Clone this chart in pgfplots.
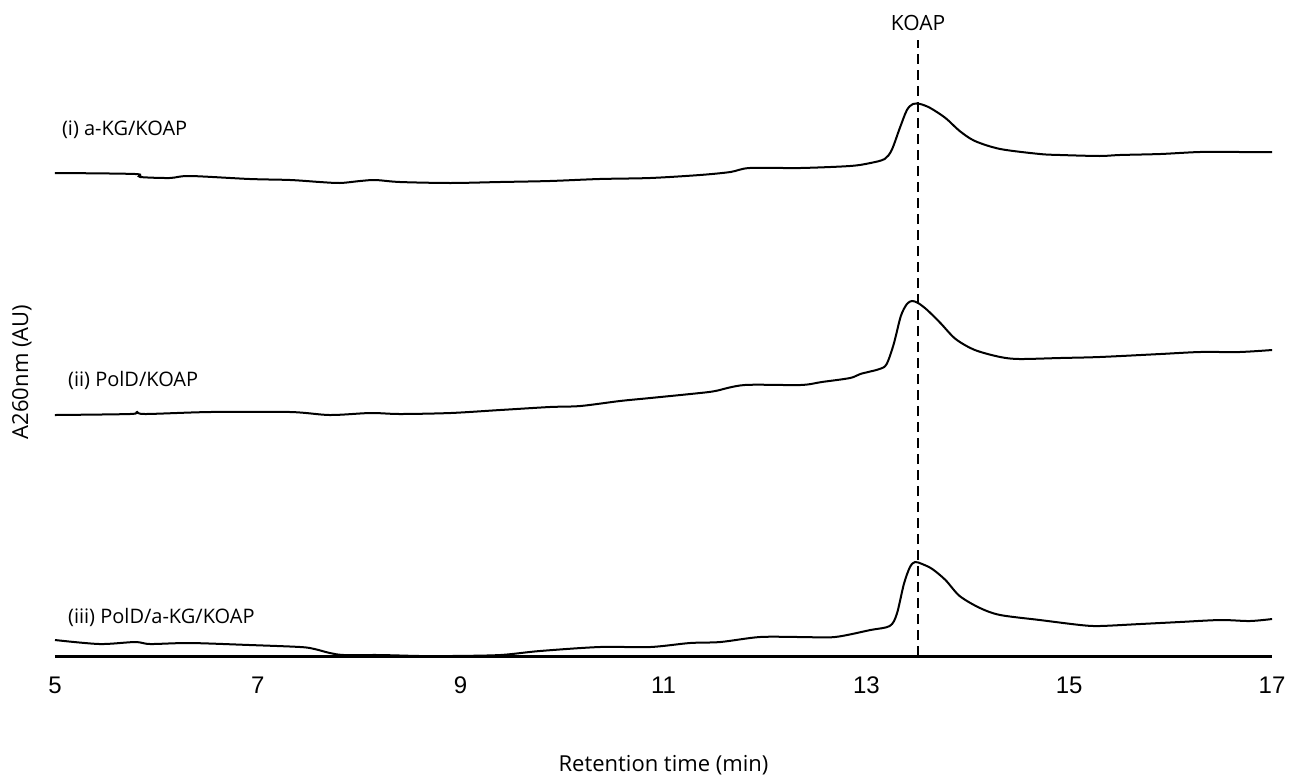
\documentclass[border=0pt]{standalone}
\usepackage{pgfplots}
\pgfplotsset{compat=1.18}
\usepackage{fontspec}
\setmainfont{Open Sans}
\newfontfamily\tickfont{Liberation Sans}

\begin{document}
\begin{tikzpicture}
\begin{axis}[
    x=50.71pt, y=0.5pt,
    xmin=5, xmax=17,
    ymin=0, ymax=650,
    clip=false,
    axis x line*=bottom,
    axis y line=none,
    axis line style={black, line width=1.5pt},
    xtick={5,7,9,11,13,15,17},
    xticklabels={5,7,9,11,13,15,17},
    major tick length=0pt,
    xticklabel style={font=\tickfont\fontsize{12}{14}\selectfont, anchor=center, yshift=-14.75pt},
    ytick=\empty,
]
% (i) a-KG/KOAP
\addplot[black, no markers, line width=1pt, smooth, tension=0.5] coordinates {
 (5.00,483) (5.79,482) (5.84,479) (6.13,478) (6.33,480) (6.92,477)
 (7.32,476) (7.61,474) (7.81,473) (8.01,475) (8.16,476) (8.40,474)
 (8.90,473) (9.39,474) (9.88,475) (10.37,477) (10.87,478) (11.36,481)
 (11.66,484) (11.85,488) (12.35,488) (12.84,490) (13.04,493) (13.18,497)
 (13.25,506) (13.33,528) (13.40,546) (13.46,552) (13.53,552) (13.63,548)
 (13.78,538) (13.92,525) (14.07,515) (14.32,507) (14.71,502) (14.91,501)
 (15.30,500) (15.50,501) (15.90,502) (16.29,504) (16.68,504) (17.00,504)
};
% (ii) PolD/KOAP
\addplot[black, no markers, line width=1pt, smooth, tension=0.5] coordinates {
 (5.00,241) (5.74,242) (5.81,244) (5.89,242) (6.53,244) (7.32,244)
 (7.71,241) (8.11,243) (8.40,242) (8.90,243) (9.39,246) (9.88,249)
 (10.18,250) (10.57,255) (10.87,258) (11.36,263) (11.51,265) (11.80,271)
 (12.35,271) (12.56,274) (12.84,278) (12.94,282) (13.13,287) (13.20,292)
 (13.27,312) (13.34,340) (13.40,352) (13.45,355) (13.51,353) (13.60,346)
 (13.73,333) (13.88,317) (14.07,306) (14.32,299) (14.51,297) (14.91,298)
 (15.30,299) (15.90,302) (16.29,304) (16.68,304) (17.00,306)
};
% (iii) PolD/a-KG/KOAP
\addplot[black, no markers, line width=1pt, smooth, tension=0.5] coordinates {
 (5.00,16) (5.44,12) (5.79,14) (5.94,12) (6.33,13) (6.92,11)
 (7.42,9) (7.56,7) (7.71,3) (7.85,1) (8.20,1) (8.60,0)
 (8.90,0) (9.39,1) (9.78,5) (10.37,9) (10.87,9) (11.26,13) (11.56,14)
 (11.95,19) (12.35,19) (12.69,19) (13.04,26) (13.23,30) (13.30,42)
 (13.37,72) (13.43,89) (13.48,94) (13.55,92) (13.65,87) (13.78,76)
 (13.92,60) (14.12,48) (14.32,41) (14.71,36) (15.11,31) (15.30,30)
 (15.70,32) (16.09,34) (16.49,36) (16.78,35) (17.00,37)
};
% KOAP marker
\addplot[black, no markers, line width=1.1pt, dash pattern=on 5pt off 3pt] coordinates {(13.51,0) (13.51,616)};

\node[font=\fontsize{10.5}{12}\selectfont] at (axis cs:13.51,633) {KOAP};
\node[anchor=west, font=\fontsize{10}{12}\selectfont] at (axis cs:5.0,526) {(i) a-KG/KOAP};
\node[anchor=west, font=\fontsize{10}{12}\selectfont] at (axis cs:5.06,276) {(ii) PolD/KOAP};
\node[anchor=west, font=\fontsize{10}{12}\selectfont] at (axis cs:5.06,39) {(iii) PolD/a-KG/KOAP};
\node[rotate=90, font=\fontsize{11}{13}\selectfont] at (axis cs:4.675,284) {A260nm (AU)};
\node[font=\fontsize{11}{13}\selectfont] at (axis cs:11.0,-109) {Retention time (min)};

\coordinate (bbA) at (axis cs:4.458,-120);
\coordinate (bbB) at (axis cs:17.177,656);
\end{axis}
\pgfresetboundingbox
\path[use as bounding box] (bbA) rectangle (bbB);
\end{tikzpicture}
\end{document}
